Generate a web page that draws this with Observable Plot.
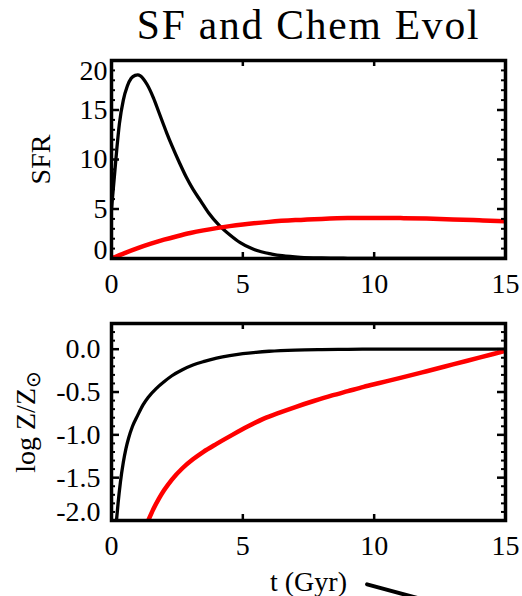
<!DOCTYPE html>
<html>
<head>
<meta charset="utf-8">
<script src="https://cdn.jsdelivr.net/npm/d3@7"></script>
<script src="https://cdn.jsdelivr.net/npm/@observablehq/plot@0.6"></script>
<style>
  html, body { margin: 0; padding: 0; background: #fff; }
  #page { position: relative; width: 522px; height: 596px; overflow: hidden; }
  #sfr { position: absolute; left: 0; top: 0; }
  #chem { position: absolute; left: 0; top: 320px; }
  svg { overflow: visible; }
</style>
</head>
<body>
<div id="page">
  <div id="sfr"></div>
  <div id="chem"></div>
</div>
<script>
// Star formation rate (black: early burst, red: extended)
const sfrTimeBurst = [0, 0.1, 0.2, 0.3, 0.45, 0.6, 0.75, 0.9, 1.0, 1.1, 1.35, 1.6, 1.8, 2.1, 2.3, 2.6, 2.85, 3.1, 3.4, 3.7, 4.1, 4.5, 4.9, 5.3, 5.7, 6.1, 6.5, 7.2, 8, 9, 10, 12, 15];
const sfrBurst     = [5.0, 8.0, 11.0, 13.6, 16.0, 17.4, 18.2, 18.5, 18.55, 18.45, 17.6, 16.2, 14.8, 12.7, 11.4, 9.6, 8.2, 7.0, 5.8, 4.6, 3.35, 2.4, 1.6, 1.05, 0.68, 0.45, 0.28, 0.12, 0.05, 0.02, 0.01, 0, 0];
const sfrTimeSlow  = [0, 0.5, 1, 1.5, 2, 2.5, 3, 3.5, 4, 4.5, 5, 6, 7, 8, 9, 10, 11, 12, 13, 14, 15];
const sfrSlow      = [0, 0.55, 1.05, 1.5, 1.9, 2.25, 2.57, 2.84, 3.07, 3.27, 3.44, 3.7, 3.88, 4.0, 4.08, 4.1, 4.08, 4.03, 3.95, 3.86, 3.76];

// Metallicity, log Z/Zsun
const zTimeBurst = [0.19, 0.25, 0.34, 0.45, 0.55, 0.65, 0.8, 1.0, 1.2, 1.4, 1.7, 2.0, 2.3, 2.7, 3.1, 3.5, 4.0, 4.5, 5.0, 5.5, 6.0, 7, 8, 9, 10, 15];
const zBurst     = [-2.0, -1.8, -1.55, -1.32, -1.16, -1.04, -0.9, -0.77, -0.65, -0.56, -0.46, -0.38, -0.31, -0.24, -0.185, -0.145, -0.105, -0.075, -0.052, -0.036, -0.024, -0.01, -0.004, -0.001, 0, 0];
const zTimeSlow  = [1.4, 1.6, 1.8, 2.0, 2.3, 2.7, 3.1, 3.5, 4.0, 4.6, 5.2, 5.8, 6.4, 7.0, 7.7, 8.4, 9.0, 9.6, 10.2, 11, 12, 13, 14, 15];
const zSlow      = [-2.0, -1.864, -1.748, -1.648, -1.522, -1.39, -1.286, -1.198, -1.105, -1.0, -0.9, -0.81, -0.74, -0.675, -0.605, -0.54, -0.49, -0.44, -0.395, -0.335, -0.257, -0.178, -0.099, -0.02];

// Axes
const timeTicks = [0, 5, 10, 15];
const sfrTicks = [0, 5, 10, 15, 20];
const zTicks = [-2.0, -1.5, -1.0, -0.5, 0.0];
const zTickLabels = ["-2.0", "-1.5", "-1.0", "-0.5", "0.0"];
const title = "SF and Chem Evol";
const timeLabel = "t (Gyr)";
const sfrLabel = "SFR";
const zLabel = "log Z/Z";
const zLabelSub = "\u2299";

// stray pointer stroke below the time axis
const pointerT = [9.73, 11.95];
const pointerV = [-2.745, -2.93];

const W = 522, ML = 111, MR = 17;
const FW = W - ML - MR;
const font = {fontFamily: "'Liberation Serif', 'Times New Roman', serif", fontSize: "28px", color: "black", background: "white"};

function boxMarks(frameH, yMinor, yMajor) {
  return [
    Plot.tickX(timeTicks, {x: d => d, insetTop: frameH - 6, strokeWidth: 2.5}),
    Plot.tickX(timeTicks, {x: d => d, insetBottom: frameH - 6, strokeWidth: 2.5}),
    Plot.tickY(yMajor, {y: d => d, insetRight: FW - 8, strokeWidth: 2.5}),
    Plot.tickY(yMajor, {y: d => d, insetLeft: FW - 8, strokeWidth: 2.5}),
    Plot.tickY(yMinor, {y: d => d, insetRight: FW - 4, strokeWidth: 2}),
    Plot.tickY(yMinor, {y: d => d, insetLeft: FW - 4, strokeWidth: 2}),
    Plot.frame({strokeWidth: 3.5}),
    Plot.text(timeTicks, {x: d => d, frameAnchor: "bottom", lineAnchor: "top", dy: 15, text: d => String(d), fontSize: 28})
  ];
}

// Top panel: star formation rate, with the figure title above it
const sfrH = 320, sfrMT = 60, sfrMB = 62;
const sfrMinor = d3.range(0, 21).filter(d => d % 5 !== 0);
const sfrPlot = Plot.plot({
  width: W, height: sfrH,
  marginLeft: ML, marginRight: MR, marginTop: sfrMT, marginBottom: sfrMB,
  style: font,
  x: {domain: [0, 15], axis: null},
  y: {domain: [0, 20], axis: null},
  marks: [
    Plot.line(sfrBurst, {x: sfrTimeBurst, y: sfrBurst, stroke: "black", strokeWidth: 3.3, curve: "monotone-x", clip: true}),
    Plot.line(sfrSlow, {x: sfrTimeSlow, y: sfrSlow, stroke: "#ff0000", strokeWidth: 4.5, curve: "monotone-x", clip: true}),
    ...boxMarks(sfrH - sfrMT - sfrMB, sfrMinor, sfrTicks),
    Plot.text(sfrTicks.filter(d => d === 20), {y: d => d, text: d => String(d), frameAnchor: "left", textAnchor: "end", lineAnchor: "top", dx: -4, fontSize: 28}),
    Plot.text(sfrTicks.filter(d => d > 0 && d < 20), {y: d => d, text: d => String(d), frameAnchor: "left", textAnchor: "end", lineAnchor: "middle", dx: -4, fontSize: 28}),
    Plot.text(sfrTicks.filter(d => d === 0), {y: d => d, text: d => String(d), frameAnchor: "left", textAnchor: "end", lineAnchor: "bottom", dx: -4, fontSize: 28}),
    Plot.text([sfrLabel], {text: d => d, frameAnchor: "left", rotate: -90, textAnchor: "middle", lineAnchor: "bottom", dx: -62, fontSize: 28}),
    Plot.text([title], {text: d => d, frameAnchor: "top", lineAnchor: "bottom", dy: -22, fontSize: 41.5, className: "figtitle"})
  ]
});
document.getElementById("sfr").append(sfrPlot);
const titleText = sfrPlot.querySelector(".figtitle text");
if (titleText) titleText.setAttribute("letter-spacing", "1.8");

// Bottom panel: metallicity
const zH = 276, zMT = 3, zMB = 76;
const zMinor = d3.range(-20, 4).map(d => d / 10).filter(d => Math.round(d * 10) % 5 !== 0);
const zPlot = Plot.plot({
  width: W, height: zH,
  marginLeft: ML, marginRight: MR, marginTop: zMT, marginBottom: zMB,
  style: font,
  x: {domain: [0, 15], axis: null},
  y: {domain: [-2, 0.3], axis: null},
  marks: [
    Plot.line(zBurst, {x: zTimeBurst, y: zBurst, stroke: "black", strokeWidth: 3.3, curve: "monotone-x", clip: true}),
    Plot.line(zSlow, {x: zTimeSlow, y: zSlow, stroke: "#ff0000", strokeWidth: 4.5, curve: "monotone-x", clip: true}),
    ...boxMarks(zH - zMT - zMB, zMinor, zTicks),
    Plot.text(zTicks.slice(1), {y: d => d, text: (d, i) => zTickLabels[i + 1], frameAnchor: "left", textAnchor: "end", lineAnchor: "middle", dx: -11, fontSize: 28}),
    Plot.text(zTicks.slice(0, 1), {y: d => d, text: () => zTickLabels[0], frameAnchor: "left", textAnchor: "end", lineAnchor: "bottom", dx: -11, fontSize: 28}),
    Plot.text([zLabel], {text: d => d, frameAnchor: "left", rotate: -90, textAnchor: "middle", lineAnchor: "bottom", dx: -77, fontSize: 28, className: "zlabel"}),
    Plot.text([timeLabel], {text: d => d, frameAnchor: "bottom", lineAnchor: "middle", dy: 62, fontSize: 28}),
    Plot.line(pointerT, {x: pointerT, y: pointerV, stroke: "black", strokeWidth: 4})
  ]
});
document.getElementById("chem").append(zPlot);

// solar subscript on the metallicity axis title
const zt = zPlot.querySelector(".zlabel text");
if (zt) {
  const sub = document.createElementNS("http://www.w3.org/2000/svg", "tspan");
  sub.setAttribute("dy", "0.25em");
  sub.setAttribute("font-size", "20");
  sub.setAttribute("font-family", "DejaVu Sans");
  sub.textContent = zLabelSub;
  zt.appendChild(sub);
}
</script>
</body>
</html>
